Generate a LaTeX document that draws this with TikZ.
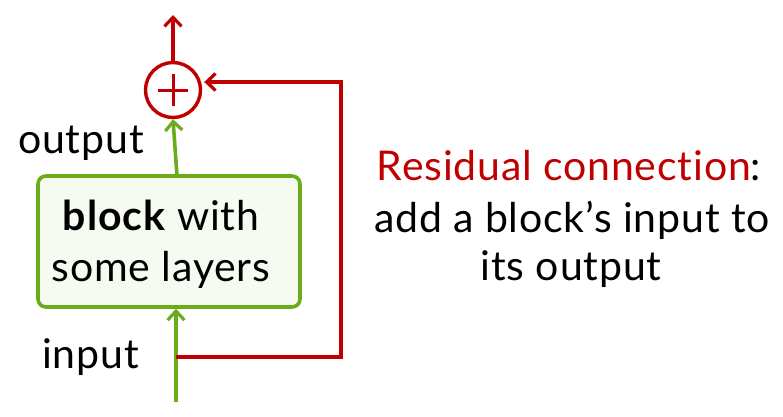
\documentclass[tikz,border=0pt]{standalone}
\usepackage{fontspec}
\setmainfont{Lato}[Ligatures={NoCommon},LetterSpace=2]
\usetikzlibrary{arrows.meta,calc}
\definecolor{rred}{HTML}{C00000}
\definecolor{rgreen}{HTML}{6CAC1C}
\definecolor{boxfill}{HTML}{F6FBF2}
\tikzset{
  redline/.style={draw=rred,line width=3.6pt},
  greenline/.style={draw=rgreen,line width=3.6pt},
  barb/.style={-{Straight Barb[length=9pt,width=17pt,line width=3.2pt]}},
  lbl/.style={font=\fontsize{41}{48}\selectfont,inner sep=0pt,anchor=base},
}
\begin{document}
\begin{tikzpicture}[x=1pt,y=-1pt]
\useasboundingbox (0,0) rectangle (783,416);
% block
\node[draw=rgreen,line width=3.6pt,fill=boxfill,rounded corners=8pt,minimum width=262pt,minimum height=131pt,inner sep=0pt] (blk) at (169,241.5) {};
\node[lbl] (blk1) at (161,230) {\textbf{block} with};
\node[lbl] (blk2) at (161,281) {some layers};
% adder
\node[circle,draw=rred,line width=3.4pt,minimum size=55pt,inner sep=0pt] (add) at (173,90) {};
\draw[draw=rred,line width=3pt] ($(add.center)+(-15,0)$) -- ($(add.center)+(15,0)$);
\draw[draw=rred,line width=3pt] ($(add.center)+(0,-16)$) -- ($(add.center)+(0,16)$);
% coordinates
\coordinate (top) at (173,15);
\coordinate (inbot) at (176,402);
\coordinate (inbranch) at (176,357);
\coordinate (cr) at (341,357);
\coordinate (ctr) at (341,82);
\coordinate (blktop) at (177,176);
% arrows
\draw[redline,barb] (add.north) -- (top);
\draw[greenline,barb] (inbot) -- (blk.south -| inbot);
\draw[greenline,barb] (blktop) -- (add.south);
\draw[redline,barb] (inbranch) -- (cr) -- (ctr) -- ($(add.east)+(2,-8)$);
% labels
\node[lbl,anchor=base west] (out) at (18,153) {output};
\node[lbl,anchor=base west] (inp) at (42,368) {input};
\node[lbl] (d1) at (569,180) {\textcolor{rred}{Residual connection}:};
\node[lbl] (d2) at (572,232) {add a block’s input to};
\node[lbl] (d3) at (571,280) {its output};
\end{tikzpicture}
\end{document}
